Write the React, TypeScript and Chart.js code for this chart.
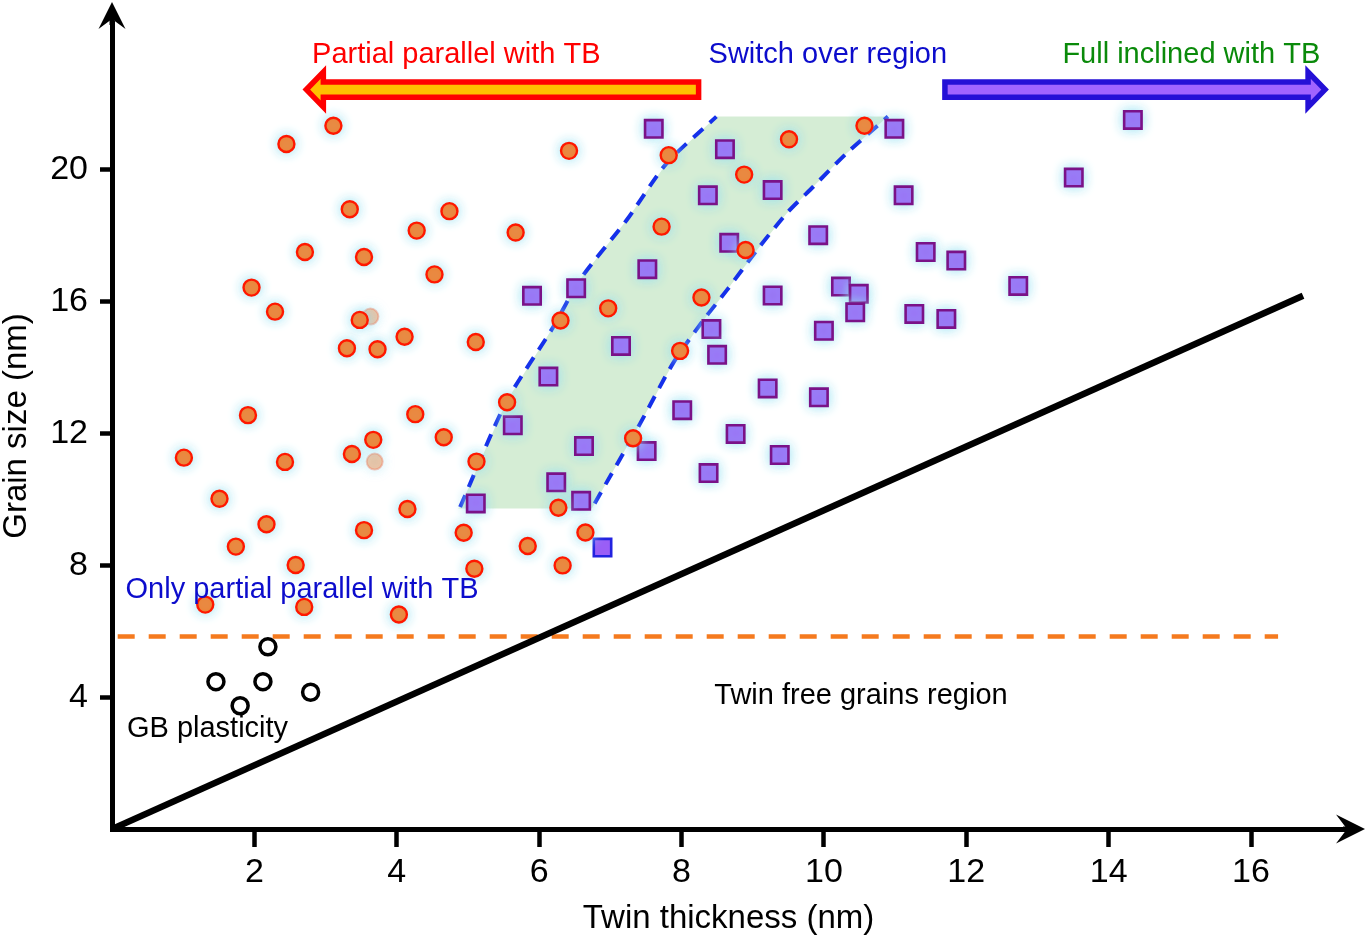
import React, { useEffect, useRef } from "react";
import { Chart, registerables } from "chart.js";

Chart.register(...registerables);

const FONT = '"Liberation Sans", Arial, Helvetica, sans-serif';

// ---- axes ----
const xTicks = [2, 4, 6, 8, 10, 12, 14, 16];
const yTicks = [4, 8, 12, 16, 20];
const xLimits = [0, 17.32];
const yLimits = [0, 24.46];
const xTitle = "Twin thickness (nm)";
const yTitle = "Grain size (nm)";

// ---- data (twin thickness nm, grain size nm) ----
const partialParallel: [number, number][] = [
  [3.11, 21.34], [2.45, 20.79], [3.34, 18.81], [4.74, 18.75], [4.28, 18.16],
  [2.71, 17.51], [3.54, 17.36], [4.53, 16.83], [1.96, 16.43], [2.29, 15.7],
  [3.48, 15.45], [3.3, 14.59], [3.73, 14.56], [4.11, 14.94], [5.11, 14.78],
  [1.91, 12.56], [4.26, 12.59], [1.01, 11.27], [2.43, 11.14], [3.37, 11.38],
  [3.67, 11.81], [4.66, 11.89], [5.12, 11.15], [5.55, 12.95], [1.51, 10.02],
  [2.17, 9.25], [1.74, 8.57], [2.58, 8.01], [3.54, 9.07], [4.15, 9.71],
  [4.94, 8.99], [5.09, 7.9], [1.31, 6.81], [2.7, 6.74], [4.03, 6.51],
  [6.42, 20.58], [7.82, 20.45], [9.51, 20.93], [10.57, 21.34], [8.88, 19.86],
  [7.72, 18.28], [5.67, 18.1], [8.9, 17.57], [8.28, 16.13], [6.97, 15.8],
  [6.3, 15.43], [7.98, 14.51], [7.32, 11.86], [6.27, 9.75], [6.65, 9.0],
  [5.84, 8.59], [6.33, 8.0],
];
const overlapGhosts: [number, number][] = [[3.63, 15.55], [3.69, 11.15]];
const fullInclined: [number, number][] = [
  [7.61, 21.25], [8.61, 20.63], [8.37, 19.23], [9.28, 19.39], [10.99, 21.25],
  [11.12, 19.23], [9.92, 18.02], [8.67, 17.79], [11.43, 17.51], [7.52, 16.99],
  [6.52, 16.41], [5.9, 16.18], [9.28, 16.19], [10.24, 16.46], [10.49, 16.24],
  [10.44, 15.68], [10.0, 15.12], [8.42, 15.17], [8.5, 14.39], [7.15, 14.66],
  [6.13, 13.73], [9.21, 13.37], [9.93, 13.1], [8.01, 12.71], [5.63, 12.25],
  [6.63, 11.62], [7.51, 11.47], [8.76, 11.99], [9.38, 11.35], [8.38, 10.8],
  [6.24, 10.52], [6.59, 9.96], [5.11, 9.88], [14.34, 21.52], [13.51, 19.77],
  [11.86, 17.25], [12.73, 16.48], [11.72, 15.48], [11.27, 15.63],
];
const transitionSquare: [number, number][] = [[6.89, 8.54]];
const gbPlasticity: [number, number][] = [
  [2.19, 5.53], [1.46, 4.47], [2.12, 4.47], [1.8, 3.74], [2.79, 4.15],
];
const twinFreeBoundary: [number, number][] = [[0, 0], [16.73, 16.18]];
const criticalGrainSize: [number, number][] = [[0.08, 5.84], [16.38, 5.84]];
const switchLeftEdge: [number, number][] = [
  [4.89, 9.77], [5.54, 12.97], [6.2, 15.24], [6.57, 16.66], [7.23, 18.48], [7.79, 20.2], [8.49, 21.62],
];
const switchRightEdge: [number, number][] = [
  [6.78, 9.88], [7.42, 12.31], [7.88, 14.13], [8.31, 15.45], [8.64, 16.36],
  [9.06, 17.57], [9.48, 18.69], [9.85, 19.49], [10.32, 20.51], [10.9, 21.62],
];
const switchBottomCorners: [number, number][] = [[4.86, 9.73], [6.74, 9.73]];

// ---- annotations (data coordinates) ----
const regionLabels = [
  { text: "Partial parallel with TB", x: 2.81, y: 23.24, color: "#FF0000" },
  { text: "Switch over region", x: 8.38, y: 23.24, color: "#0C0CCC" },
  { text: "Full inclined with TB", x: 13.35, y: 23.24, color: "#0A8A0A" },
  { text: "Only partial parallel with TB", x: 0.19, y: 7.0, color: "#0C0CCC" },
  { text: "Twin free grains region", x: 8.46, y: 3.79, color: "#000000" },
  { text: "GB plasticity", x: 0.21, y: 2.78, color: "#000000" },
];
const directionArrows = [
  { from: 8.24, to: 2.73, y: 22.44, fill: "#FFC000", stroke: "#FF0000" },
  { from: 11.7, to: 17.04, y: 22.44, fill: "#A064FF", stroke: "#2410D6" },
];

const toPts = (a: [number, number][]) => a.map(([x, y]) => ({ x, y }));

const glowPlugin = {
  id: "glow",
  beforeDatasetDraw(chart: any, args: any) {
    const ds = chart.data.datasets[args.index];
    if (ds.glow) {
      const ctx = chart.ctx;
      ctx.save();
      ctx.shadowColor = ds.glow;
      ctx.shadowBlur = 12;
      ctx.shadowOffsetX = 0;
      ctx.shadowOffsetY = 0;
    }
  },
  afterDatasetDraw(chart: any, args: any) {
    const ds = chart.data.datasets[args.index];
    if (ds.glow) chart.ctx.restore();
  },
};

function blockArrow(ctx: CanvasRenderingContext2D, x0: number, x1: number, yc: number, fill: string, stroke: string) {
  const dir = Math.sign(x1 - x0);
  const headLen = 17;
  const bodyH = 7.6;
  const headH = 17.5;
  const xn = x1 - dir * headLen;
  ctx.beginPath();
  ctx.moveTo(x0, yc - bodyH);
  ctx.lineTo(xn, yc - bodyH);
  ctx.lineTo(xn, yc - headH);
  ctx.lineTo(x1, yc);
  ctx.lineTo(xn, yc + headH);
  ctx.lineTo(xn, yc + bodyH);
  ctx.lineTo(x0, yc + bodyH);
  ctx.closePath();
  ctx.fillStyle = fill;
  ctx.fill();
  ctx.lineJoin = "miter";
  ctx.lineWidth = 5.5;
  ctx.strokeStyle = stroke;
  ctx.stroke();
}

const decorPlugin = {
  id: "decor",
  afterDatasetsDraw(chart: any) {
    const { ctx, chartArea, scales } = chart;
    const xs = scales.x;
    const ys = scales.y;
    const { left, right, top, bottom } = chartArea;
    ctx.save();
    // axis arrow heads
    ctx.fillStyle = "#000";
    ctx.strokeStyle = "#000";
    ctx.lineWidth = 5;
    ctx.beginPath();
    ctx.moveTo(right - 2, bottom);
    ctx.lineTo(right + 6, bottom);
    ctx.stroke();
    ctx.beginPath();
    ctx.moveTo(right + 20, bottom);
    ctx.lineTo(right - 9, bottom - 14.5);
    ctx.lineTo(right + 2, bottom);
    ctx.lineTo(right - 9, bottom + 14.5);
    ctx.closePath();
    ctx.fill();
    ctx.beginPath();
    ctx.moveTo(left, top + 2);
    ctx.lineTo(left, top - 6);
    ctx.stroke();
    ctx.beginPath();
    ctx.moveTo(left, top - 21);
    ctx.lineTo(left + 13.5, top + 6);
    ctx.lineTo(left, top - 4);
    ctx.lineTo(left - 13.5, top + 6);
    ctx.closePath();
    ctx.fill();

    // direction arrows
    for (const a of directionArrows) {
      blockArrow(ctx, xs.getPixelForValue(a.from), xs.getPixelForValue(a.to), ys.getPixelForValue(a.y), a.fill, a.stroke);
    }
    // labels
    ctx.font = `29px ${FONT}`;
    ctx.textAlign = "left";
    ctx.textBaseline = "alphabetic";
    for (const l of regionLabels) {
      ctx.fillStyle = l.color;
      ctx.fillText(l.text, xs.getPixelForValue(l.x), ys.getPixelForValue(l.y));
    }
    ctx.restore();
  },
};

export default function App() {
  const ref = useRef<HTMLCanvasElement>(null);
  useEffect(() => {
    const canvas = ref.current;
    if (!canvas) return;
    const regionPts = toPts([
      switchBottomCorners[0],
      ...switchLeftEdge,
      ...[...switchRightEdge].reverse(),
      switchBottomCorners[1],
    ]);
    const chart = new Chart(canvas, {
      type: "scatter",
      data: {
        datasets: [
          {
            label: "Partial parallel with TB",
            data: toPts(partialParallel),
            pointStyle: "circle",
            pointRadius: 8,
            pointBackgroundColor: "#FF7212",
            pointBorderColor: "#FF1800",
            pointBorderWidth: 2.4,
            glow: "rgba(150,225,242,0.95)",
            order: 1,
          } as any,
          {
            label: "overlap",
            data: toPts(overlapGhosts),
            pointStyle: "circle",
            pointRadius: 8,
            pointBackgroundColor: "rgba(240,150,90,0.55)",
            pointBorderColor: "rgba(240,120,90,0.4)",
            pointBorderWidth: 2,
            glow: "rgba(150,225,242,0.9)",
            order: 2,
          } as any,
          {
            label: "Full inclined with TB",
            data: toPts(fullInclined),
            pointStyle: "rect",
            pointRadius: 12.3,
            pointBackgroundColor: "#9A5EF6",
            pointBorderColor: "#7A1288",
            pointBorderWidth: 2.6,
            glow: "rgba(150,225,242,0.95)",
            order: 3,
          } as any,
          {
            label: "transition",
            data: toPts(transitionSquare),
            pointStyle: "rect",
            pointRadius: 12.3,
            pointBackgroundColor: "#9A5EF6",
            pointBorderColor: "#2222E0",
            pointBorderWidth: 2.6,
            order: 3,
          } as any,
          {
            label: "GB plasticity",
            data: toPts(gbPlasticity),
            pointStyle: "circle",
            pointRadius: 8,
            pointBackgroundColor: "#FFFFFF",
            pointBorderColor: "#000000",
            pointBorderWidth: 3.5,
            order: 4,
          },
          {
            type: "line",
            label: "switch left",
            data: toPts(switchLeftEdge),
            borderColor: "#1530EA",
            borderWidth: 4,
            borderDash: [13, 9],
            pointRadius: 0,
            tension: 0.25,
            fill: false,
            order: 5,
          },
          {
            type: "line",
            label: "switch right",
            data: toPts(switchRightEdge),
            borderColor: "#1530EA",
            borderWidth: 4,
            borderDash: [13, 9],
            pointRadius: 0,
            tension: 0.25,
            fill: false,
            order: 5,
          },
          {
            type: "line",
            label: "switch region",
            data: regionPts,
            borderColor: "rgba(0,0,0,0)",
            borderWidth: 0,
            backgroundColor: "#D5EDD5",
            pointRadius: 0,
            tension: 0,
            fill: "shape",
            order: 6,
          } as any,
          {
            type: "line",
            label: "twin free boundary",
            data: toPts(twinFreeBoundary),
            borderColor: "#000000",
            borderWidth: 6.5,
            pointRadius: 0,
            fill: false,
            order: 7,
          },
          {
            type: "line",
            label: "critical size",
            data: toPts(criticalGrainSize),
            borderColor: "#F57A1E",
            borderWidth: 4.5,
            borderDash: [17, 14],
            pointRadius: 0,
            fill: false,
            order: 8,
          },
        ],
      },
      options: {
        animation: false,
        responsive: false,
        events: [],
        layout: { padding: { top: 23, right: 21, left: 0, bottom: 0 } },
        plugins: { legend: { display: false }, tooltip: { enabled: false } },
        scales: {
          x: {
            type: "linear",
            min: xLimits[0],
            max: xLimits[1],
            afterBuildTicks: (s: any) => {
              s.ticks = xTicks.map((v) => ({ value: v }));
            },
            afterFit: (s: any) => {
              s.height = 108;
              s.paddingLeft = 0;
              s.paddingRight = 0;
            },
            border: { display: true, color: "#000", width: 5 },
            grid: { display: true, drawOnChartArea: false, drawTicks: true, tickLength: 18, tickWidth: 4.5, tickColor: "#000" },
            ticks: { color: "#000", font: { family: FONT, size: 34 }, padding: 5, maxRotation: 0, autoSkip: false },
            title: { display: true, text: xTitle, color: "#000", font: { family: FONT, size: 33, lineHeight: 1 }, padding: { top: 0, bottom: 2 } },
          },
          y: {
            type: "linear",
            min: yLimits[0],
            max: yLimits[1],
            afterBuildTicks: (s: any) => {
              s.ticks = yTicks.map((v) => ({ value: v }));
            },
            afterFit: (s: any) => {
              s.width = 112;
              s.paddingTop = 0;
              s.paddingBottom = 0;
            },
            border: { display: true, color: "#000", width: 5 },
            grid: { display: true, drawOnChartArea: false, drawTicks: true, tickLength: 12, tickWidth: 4.5, tickColor: "#000" },
            ticks: { color: "#000", font: { family: FONT, size: 34 }, padding: 12, autoSkip: false },
            title: { display: true, text: yTitle, color: "#000", font: { family: FONT, size: 33, lineHeight: 1 }, padding: { top: 0, bottom: 0 } },
          },
        },
      } as any,
      plugins: [glowPlugin, decorPlugin],
    });
    return () => chart.destroy();
  }, []);
  return (
    <div style={{ position: "fixed", left: 0, top: 0, width: 1366, height: 937, background: "#fff" }}>
      <canvas ref={ref} width={1366} height={937} style={{ width: 1366, height: 937, display: "block" }} />
    </div>
  );
}
